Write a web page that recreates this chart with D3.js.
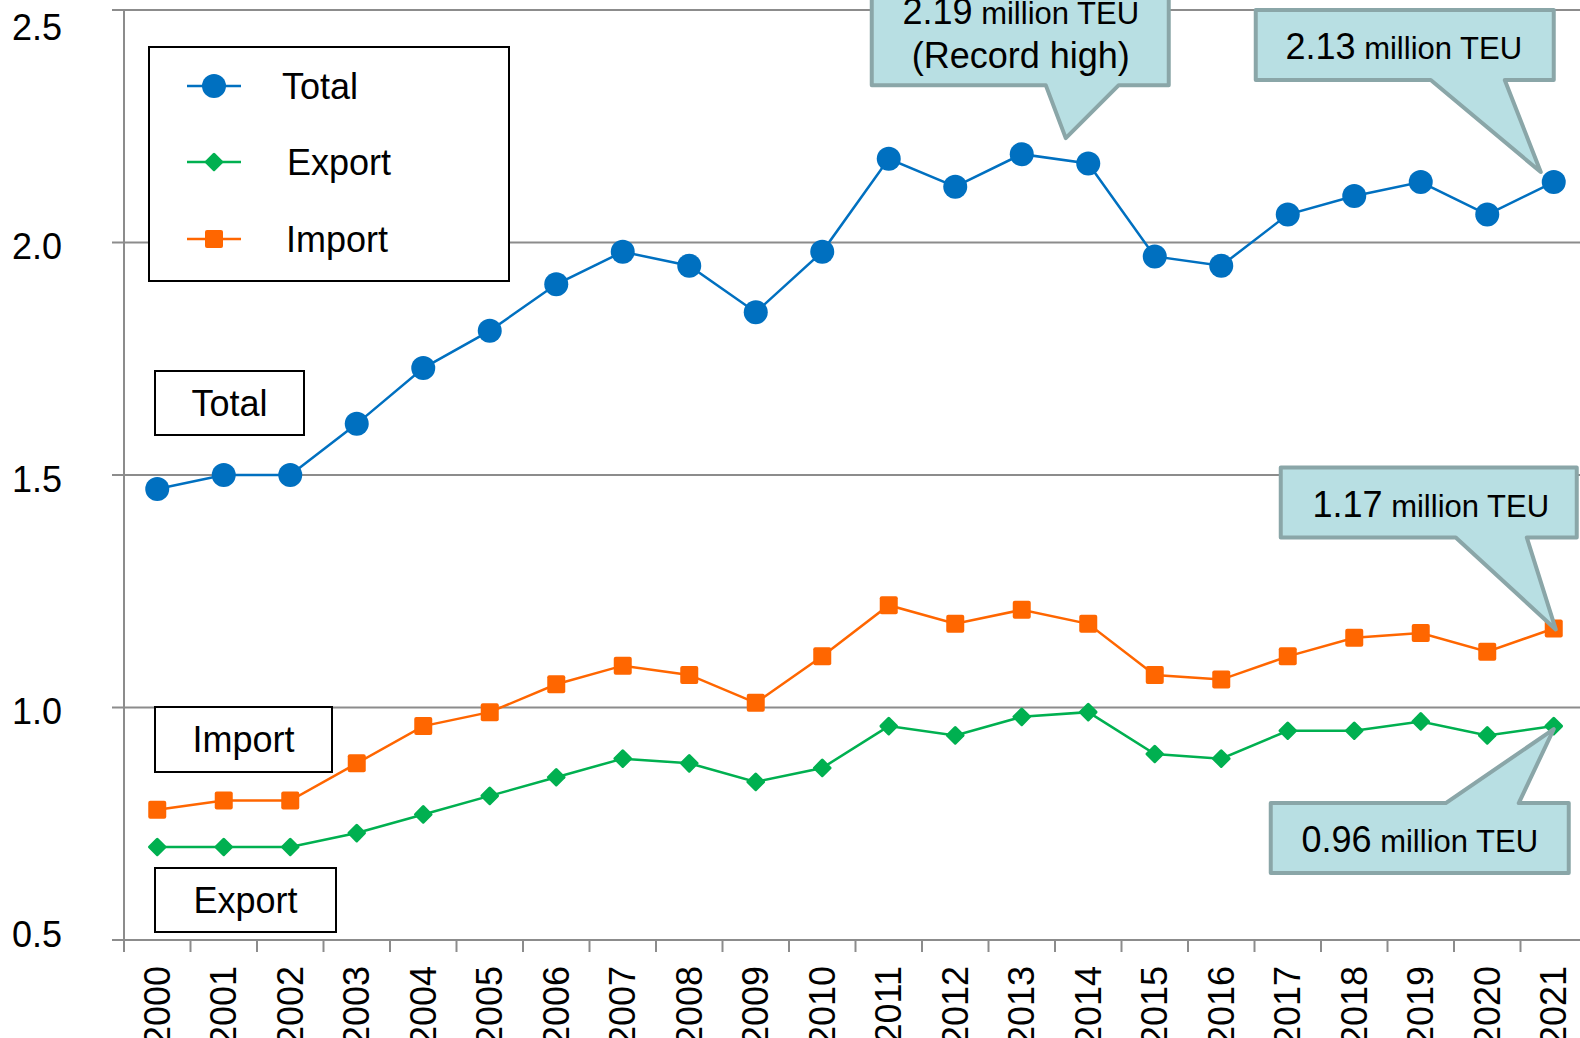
<!DOCTYPE html>
<html>
<head>
<meta charset="utf-8">
<script src="https://cdn.jsdelivr.net/npm/d3@7"></script>
<style>
  html, body { margin: 0; padding: 0; background: #fff; }
  svg { display: block; font-family: "Liberation Sans", Arial, sans-serif; }
</style>
</head>
<body>
<div id="chart"></div>
<script>
// data (million TEU)
const years = ["2000", "2001", "2002", "2003", "2004", "2005", "2006", "2007", "2008", "2009", "2010",
  "2011", "2012", "2013", "2014", "2015", "2016", "2017", "2018", "2019", "2020", "2021"];
const total = [1.47, 1.50, 1.50, 1.61, 1.73, 1.81, 1.91, 1.98, 1.95, 1.85, 1.98,
  2.18, 2.12, 2.19, 2.17, 1.97, 1.95, 2.06, 2.10, 2.13, 2.06, 2.13];
const exportVals = [0.70, 0.70, 0.70, 0.73, 0.77, 0.81, 0.85, 0.89, 0.88, 0.84, 0.87,
  0.96, 0.94, 0.98, 0.99, 0.90, 0.89, 0.95, 0.95, 0.97, 0.94, 0.96];
const importVals = [0.78, 0.80, 0.80, 0.88, 0.96, 0.99, 1.05, 1.09, 1.07, 1.01, 1.11,
  1.22, 1.18, 1.21, 1.18, 1.07, 1.06, 1.11, 1.15, 1.16, 1.12, 1.17];
const yTicks = [0.5, 1.0, 1.5, 2.0, 2.5];
const seriesNames = ["Total", "Export", "Import"];

let width = 1580;
let height = 1038;

let color = {
  total: '#0070c0',
  export: '#00b050',
  import: '#ff6600',
  grid: '#8c8c8c',
  calloutFill: '#b8dfe3',
  calloutStroke: '#8aa6a8'
};

const series = [
  { name: seriesNames[0], values: total, color: color.total, shape: 'circle' },
  { name: seriesNames[1], values: exportVals, color: color.export, shape: 'diamond' },
  { name: seriesNames[2], values: importVals, color: color.import, shape: 'square' }
];

const x = d3.scaleBand()
  .domain(years)
  .range([124, 1587])
  .padding(0);

const y = d3.scaleLinear()
  .domain([0.5, 2.5])
  .range([940, 10]);

const cx = yr => x(yr) + x.bandwidth() / 2;

const svg = d3.select("#chart").append("svg")
  .attr('width', width)
  .attr('height', height);

// gridlines
svg.append('g')
  .selectAll('line')
  .data(yTicks.slice(1))
  .enter().append('line')
  .attr('x1', 112)
  .attr('x2', width)
  .attr('y1', d => y(d))
  .attr('y2', d => y(d))
  .attr('stroke', color.grid)
  .attr('stroke-width', 2);

// y axis
svg.append('line')
  .attr('x1', 124).attr('x2', 124)
  .attr('y1', y(2.5)).attr('y2', y(0.5))
  .attr('stroke', color.grid).attr('stroke-width', 2);

svg.append('g')
  .selectAll('text')
  .data(yTicks)
  .enter().append('text')
  .attr('x', 62)
  .attr('y', d => Math.min(Math.max(y(d) + 4, 27), 934))
  .attr('dy', '0.35em')
  .attr('text-anchor', 'end')
  .attr('font-size', 36)
  .text(d => d.toFixed(1));

// x axis
const gx = svg.append('g');
gx.append('line')
  .attr('x1', 112).attr('x2', width)
  .attr('y1', y(0.5)).attr('y2', y(0.5))
  .attr('stroke', color.grid).attr('stroke-width', 2);

gx.selectAll('line.tick')
  .data(years)
  .enter().append('line')
  .attr('class', 'tick')
  .attr('x1', d => x(d)).attr('x2', d => x(d))
  .attr('y1', y(0.5)).attr('y2', y(0.5) + 12)
  .attr('stroke', color.grid).attr('stroke-width', 2);

gx.selectAll('text')
  .data(years)
  .enter().append('text')
  .attr('transform', d => `translate(${cx(d)},${y(0.5) + 26}) rotate(-90)`)
  .attr('text-anchor', 'end')
  .attr('dy', '0.35em')
  .attr('font-size', 36)
  .text(d => d);

// marker drawing
function drawMarker(g, shape, fill) {
  if (shape === 'circle') {
    g.append('circle').attr('r', 12).attr('fill', fill);
  } else if (shape === 'square') {
    g.append('rect').attr('x', -9).attr('y', -9).attr('width', 18).attr('height', 18)
      .attr('rx', 2).attr('fill', fill);
  } else {
    g.append('rect').attr('x', -7).attr('y', -7).attr('width', 14).attr('height', 14)
      .attr('rx', 1.5).attr('transform', 'rotate(45)').attr('fill', fill);
  }
}

// series lines + markers
const line = d3.line()
  .x((d, i) => cx(years[i]))
  .y(d => y(d));

series.forEach(s => {
  svg.append('path')
    .datum(s.values)
    .attr('d', line)
    .attr('fill', 'none')
    .attr('stroke', s.color)
    .attr('stroke-width', 2.5);

  svg.append('g')
    .selectAll('g')
    .data(s.values)
    .enter().append('g')
    .attr('transform', (d, i) => `translate(${cx(years[i])},${y(d)})`)
    .each(function () { drawMarker(d3.select(this), s.shape, s.color); });
});

// legend
const legend = svg.append('g');
legend.append('rect')
  .attr('x', 149).attr('y', 47).attr('width', 360).attr('height', 234)
  .attr('fill', '#fff').attr('stroke', '#000').attr('stroke-width', 2);

const legendRows = [86, 162, 239];
const legendTextX = [282, 287, 286];
series.forEach((s, i) => {
  const row = legend.append('g').attr('transform', `translate(0,${legendRows[i]})`);
  row.append('line')
    .attr('x1', 187).attr('x2', 241)
    .attr('stroke', s.color).attr('stroke-width', 2.5);
  drawMarker(row.append('g').attr('transform', 'translate(214,0)'), s.shape, s.color);
  row.append('text')
    .attr('x', legendTextX[i])
    .attr('dy', '0.35em')
    .attr('font-size', 36)
    .text(s.name);
});

// series label boxes
const labelBoxes = [
  { text: seriesNames[0], x: 155, y: 371, w: 149, h: 64 },
  { text: seriesNames[2], x: 155, y: 707, w: 177, h: 65 },
  { text: seriesNames[1], x: 155, y: 868, w: 181, h: 64 }
];
const lb = svg.append('g')
  .selectAll('g')
  .data(labelBoxes)
  .enter().append('g');
lb.append('rect')
  .attr('x', d => d.x).attr('y', d => d.y)
  .attr('width', d => d.w).attr('height', d => d.h)
  .attr('fill', '#fff').attr('stroke', '#000').attr('stroke-width', 2);
lb.append('text')
  .attr('x', d => d.x + d.w / 2)
  .attr('y', d => d.y + d.h / 2)
  .attr('dy', '0.35em')
  .attr('text-anchor', 'middle')
  .attr('font-size', 36)
  .text(d => d.text);

// callouts: tip placed relative to a data point, box relative to the tip
const callouts = [
  { s: 0, year: "2013", dx: 44, dy: -16, box: [-194, 103, -190, -53], wedge: [-20, 53], side: 'bottom',
    lines: [{ num: "2.19", unit: " million TEU", dy: -114 }, { num: "(Record high)", unit: "", dy: -70 }], tx: -45 },
  { s: 0, year: "2021", dx: -13, dy: -10, box: [-285, 13, -162, -92], wedge: [-110, -36], side: 'bottom',
    lines: [{ num: "2.13", unit: " million TEU", dy: -113 }], tx: -137 },
  { s: 2, year: "2021", dx: 2, dy: 1, box: [-275, 21, -162, -92], wedge: [-100, -29], side: 'bottom',
    lines: [{ num: "1.17", unit: " million TEU", dy: -112 }], tx: -125 },
  { s: 1, year: "2021", dx: 0, dy: 3, box: [-283, 15, 74, 144], wedge: [-108, -35], side: 'top',
    lines: [{ num: "0.96", unit: " million TEU", dy: 123 }], tx: -134 }
];

function calloutPath(c, tx, ty) {
  const x0 = tx + c.box[0], x1 = tx + c.box[1], y0 = ty + c.box[2], y1 = ty + c.box[3];
  const wa = tx + c.wedge[0], wb = tx + c.wedge[1];
  const p = d3.path();
  if (c.side === 'bottom') {
    p.moveTo(x0, y0); p.lineTo(x1, y0); p.lineTo(x1, y1); p.lineTo(wb, y1);
    p.lineTo(tx, ty); p.lineTo(wa, y1); p.lineTo(x0, y1);
  } else {
    p.moveTo(x0, y0); p.lineTo(wa, y0); p.lineTo(tx, ty); p.lineTo(wb, y0);
    p.lineTo(x1, y0); p.lineTo(x1, y1); p.lineTo(x0, y1);
  }
  p.closePath();
  return p.toString();
}

const cg = svg.append('g')
  .selectAll('g')
  .data(callouts)
  .enter().append('g')
  .attr('transform', c => {
    const i = years.indexOf(c.year);
    return `translate(${cx(c.year) + c.dx},${y(series[c.s].values[i]) + c.dy})`;
  });

cg.append('path')
  .attr('d', c => calloutPath(c, 0, 0))
  .attr('fill', color.calloutFill)
  .attr('stroke', color.calloutStroke)
  .attr('stroke-width', 4)
  .attr('stroke-linejoin', 'round');

cg.each(function (c) {
  const g = d3.select(this);
  c.lines.forEach(l => {
    const t = g.append('text')
      .attr('x', c.tx)
      .attr('y', l.dy)
      .attr('text-anchor', 'middle')
      .attr('font-size', 36);
    t.append('tspan').text(l.num);
    if (l.unit) t.append('tspan').attr('font-size', 31).text(l.unit);
  });
});
</script>
</body>
</html>
